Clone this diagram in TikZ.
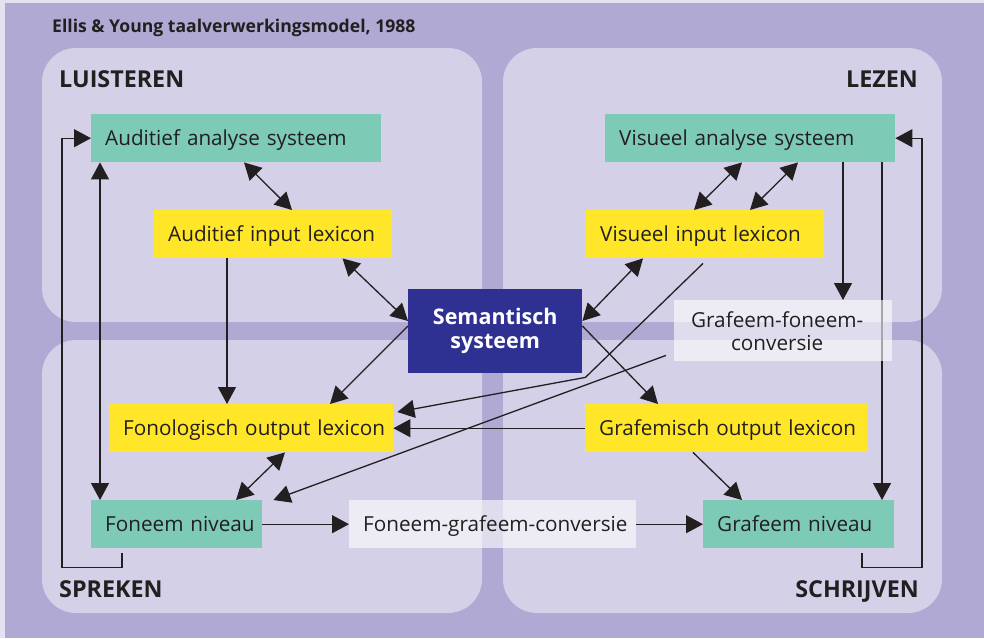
\documentclass[tikz,border=0pt]{standalone}
\usepackage{fontspec}
\setmainfont{Open Sans}
\usetikzlibrary{arrows.meta}

\definecolor{framebg}{HTML}{E4E2F0}
\definecolor{bgpurple}{HTML}{AFA9D3}
\definecolor{panelfill}{HTML}{D3D0E7}
\definecolor{boxteal}{HTML}{7DCBB6}
\definecolor{boxyellow}{HTML}{FFE629}
\definecolor{semblue}{HTML}{2E3192}
\definecolor{ink}{HTML}{231F20}

\pgfdeclarelayer{back}
\pgfdeclarelayer{lines}
\pgfsetlayers{back,lines,main}

\begin{document}
\begin{tikzpicture}[x=1pt,y=-1pt,
  panel/.style={fill=panelfill, rounded corners=34pt},
  box/.style={anchor=north west, inner xsep=14pt, inner ysep=0pt,
    minimum height=48pt, align=left, text height=14.5pt, text depth=0pt,
    text=ink, font=\fontsize{20.7}{24}\selectfont},
  tealbox/.style={box, fill=boxteal},
  yellowbox/.style={box, fill=boxyellow},
  convbox/.style={fill=white, fill opacity=0.6, text opacity=1, text=ink},
  paneltitle/.style={text=ink, inner sep=0pt, font=\bfseries\fontsize{23.3}{26}\selectfont},
  conn/.style={draw=ink, line width=1.3pt},
  arr/.style={conn, -{Triangle[length=17pt,width=18pt]}},
  darr/.style={conn, {Triangle[length=17pt,width=18pt]}-{Triangle[length=17pt,width=18pt]}}
]
\useasboundingbox (0,0) rectangle (984,638);

% backdrop and the four quadrants
\begin{pgfonlayer}{back}
  \fill[framebg] (0,0) rectangle (984,638);
  \fill[bgpurple] (5,3) rectangle (984,638);
  \fill[panel] (42,48) rectangle (482,322);
  \fill[panel] (503,48) rectangle (942,322);
  \fill[panel] (42,340) rectangle (482,613);
  \fill[panel] (503,340) rectangle (942,613);
\end{pgfonlayer}

% headings
\node[text=ink, inner sep=0pt, anchor=base west, font=\bfseries\fontsize{17.6}{21}\selectfont]
  (title) at (52,32) {Ellis \& Young taalverwerkingsmodel, 1988};
\node[paneltitle, anchor=base west] (luis) at (59,87) {LUISTEREN};
\node[paneltitle, anchor=base east] (lez) at (918,87) {LEZEN};
\node[paneltitle, anchor=base west] (spr) at (59,597) {SPREKEN};
\node[paneltitle, anchor=base east] (schr) at (919,597) {SCHRIJVEN};

% processing components
\node[tealbox, text width=262pt] (aas) at (91,114) {Auditief analyse systeem};
\node[yellowbox, text width=210pt] (ail) at (154,210) {\mbox{Auditief input lexicon}};
\node[tealbox, text width=262pt] (vas) at (605,114) {Visueel analyse systeem};
\node[yellowbox, text width=210pt] (vil) at (586,210) {\mbox{Visueel input lexicon}};
\node[yellowbox, text width=256pt] (fol) at (109,404) {\mbox{Fonologisch output lexicon}};
\node[yellowbox, text width=254pt] (gol) at (585,404) {\mbox{Grafemisch output lexicon}};
\node[tealbox, text width=143pt] (fn) at (91,500) {\mbox{Foneem niveau}};
\node[box, convbox, text width=259pt] (fgc) at (349,500) {\mbox{Foneem-grafeem-conversie}};
\node[tealbox, text width=163pt] (gn) at (703,500) {\mbox{Grafeem niveau}};

\node[anchor=north west, fill=semblue, minimum width=174pt, minimum height=84pt,
  inner sep=0pt, align=center, text=white,
  font=\bfseries\fontsize{21.5}{24}\selectfont] (sem) at (408,289) {Semantisch\\systeem};

\node[anchor=north west, convbox, minimum width=218pt, minimum height=61pt,
  inner sep=0pt, align=center, font=\fontsize{20.7}{23}\selectfont]
  (gfc) at (674,300) {Grafeem-foneem-\hspace*{12pt}\\conversie\hspace*{12pt}};

% connections
\begin{pgfonlayer}{lines}
  % auditory route
  \draw[darr] ([xshift=153pt]aas.south west) -- ([xshift=138pt]ail.north west);
  \draw[darr] ([xshift=9pt]aas.south west) -- ([xshift=9pt]fn.north west);
  \draw[arr] ([xshift=31pt,yshift=-5pt]fn.south west) -- ++(0,14) -- ++(-60,0) |- (aas.west);
  \draw[arr] ([xshift=73pt]ail.south west) -- ([xshift=118pt]fol.north west);
  \draw[darr] ([xshift=188.5pt]ail.south west) -- ([yshift=-32pt]sem.north west);
  \draw[arr] ([yshift=-37pt]sem.north west) -- ([xshift=221pt]fol.north west);
  \draw[darr] ([xshift=176pt]fol.south west) -- ([xshift=145pt]fn.north west);

  % visual route
  \draw[darr] ([xshift=137pt]vas.south west) -- ([xshift=108pt]vil.north west);
  \draw[darr] ([xshift=193pt]vas.south west) -- ([xshift=164pt]vil.north west);
  \draw[arr] ([xshift=238pt]vas.south west) -- ([xshift=169pt]gfc.north west);
  \draw[arr] ([xshift=277pt]vas.south west) -- ([xshift=179pt]gn.north west);
  \draw[arr] ([xshift=159pt,yshift=-5pt]gn.south west) -- ++(0,14) -- ++(60,0) |- (vas.east);
  \draw[darr] ([yshift=-32pt]sem.north east) -- ([xshift=57pt]vil.south west);
  \draw[arr] ([yshift=-37pt]sem.north east) -- ([xshift=73pt]gol.north west);
  \draw[arr] ([xshift=117pt,yshift=-5pt]vil.south west)
     -- ([xshift=3pt,yshift=-4pt]sem.south east)
     -- ([xshift=4pt,yshift=-8pt]fol.north east);
  \draw[arr] ([xshift=-8pt,yshift=6pt]gfc.south west) -- ([xshift=11pt]fn.north east);
  \draw[arr] (gol.west) -- (fol.east);
  \draw[arr] ([xshift=108pt]gol.south west) -- ([xshift=39pt]gn.north west);

  % output conversion
  \draw[arr] (fn.east) -- (fgc.west);
  \draw[arr] (fgc.east) -- (gn.west);
\end{pgfonlayer}
\end{tikzpicture}
\end{document}
